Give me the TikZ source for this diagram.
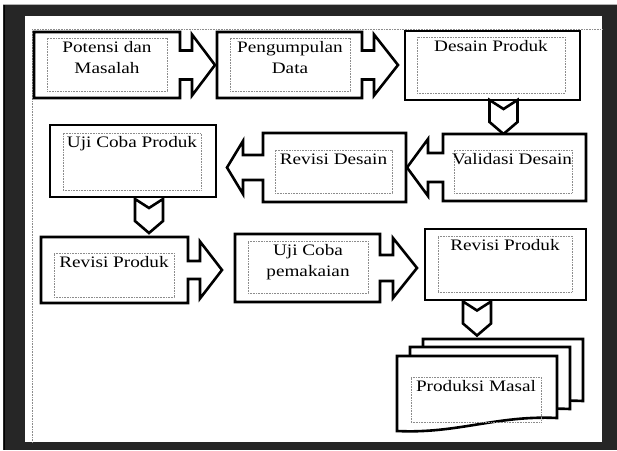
\documentclass[tikz,border=0pt]{standalone}
\usepackage{fontspec}
\setmainfont{Liberation Serif}[FakeStretch=1.2]
\usetikzlibrary{calc}
\definecolor{framegray}{RGB}{38,38,38}
\definecolor{guidegray}{RGB}{140,140,140}

\tikzset{
  outline/.style={draw=black, line width=2.6pt, fill=white, line join=miter},
  body/.style={inner sep=0pt, outer sep=0pt},
  intext/.style={draw=guidegray, line width=0.6pt, dash pattern=on 0.8pt off 0.8pt,
    inner sep=0pt, font=\fontsize{16}{21}\selectfont},
  guide/.style={guidegray, line width=0.8pt, dash pattern=on 0.8pt off 0.8pt},
  chevron/.pic={\draw[outline] (-14,-17) -- (0,-8) -- (14,-17) -- (14,5) -- (0,17) -- (-14,5) -- cycle;}
}

% text at the top of a dotted frame
\newcommand{\tbox}[3]{\parbox[t][#2][t]{#1}{\vspace*{3.5pt}\centering #3}}

% right arrow callout: node, shaft half, head half, shaft length, head length
\newcommand{\rcall}[5]{%
  \draw[outline] (#1.north west) -- (#1.north east)
    -- ($(#1.east)+(0,-#2)$) -- ($(#1.east)+(#4,-#2)$) -- ($(#1.east)+(#4,-#3)$)
    -- ($(#1.east)+(#4+#5,0)$)
    -- ($(#1.east)+(#4,#3)$) -- ($(#1.east)+(#4,#2)$) -- ($(#1.east)+(0,#2)$)
    -- (#1.south east) -- (#1.south west) -- cycle;}

% left arrow callout
\newcommand{\lcall}[5]{%
  \draw[outline] (#1.north east) -- (#1.north west)
    -- ($(#1.west)+(0,-#2)$) -- ($(#1.west)+(-#4,-#2)$) -- ($(#1.west)+(-#4,-#3)$)
    -- ($(#1.west)+(-#4-#5,0)$)
    -- ($(#1.west)+(-#4,#3)$) -- ($(#1.west)+(-#4,#2)$) -- ($(#1.west)+(0,#2)$)
    -- (#1.south west) -- (#1.south east) -- cycle;}

% one sheet of the stacked documents
\newcommand{\docpage}[2]{%
  \draw[outline] (#1,#2) -- ({#1+160},#2) -- ({#1+160},{#2+62})
    .. controls ({#1+100},{#2+59}) and ({#1+60},{#2+78}) .. (#1,{#2+75}) -- cycle;}

\begin{document}
\begin{tikzpicture}[x=1pt, y=-1pt]
  \useasboundingbox (0,0) rectangle (617,450);

  % window frame
  \fill[framegray] (3,4) rectangle (617,450);
  \draw[black, line width=1.2pt] (4.2,4) -- (4.2,450);
  \draw[gray!60, line width=0.8pt] (3,4.4) -- (617,4.4);
  \fill[white] (25,16) rectangle (602,442);
  \draw[guide] (32,29) -- (32,442);
  \draw[guide] (32,29) -- (602,29);

  % bodies
  \node[body, minimum width=146pt, minimum height=66pt] (pot) at (107,65) {};
  \node[body, minimum width=145pt, minimum height=66pt] (peng) at (289.5,65) {};
  \node[body, minimum width=175pt, minimum height=69pt] (desain) at (492.5,65.5) {};
  \node[body, minimum width=166pt, minimum height=72pt] (ujiproduk) at (133,161) {};
  \node[body, minimum width=143pt, minimum height=69pt] (revdesain) at (334.5,167.5) {};
  \node[body, minimum width=143pt, minimum height=67pt] (validasi) at (514.5,167.5) {};
  \node[body, minimum width=147pt, minimum height=66pt] (revproduk) at (114.5,270) {};
  \node[body, minimum width=145pt, minimum height=68pt] (ujipakai) at (307.5,268) {};
  \node[body, minimum width=161pt, minimum height=71pt] (revproduk2) at (505.5,264.5) {};
  \node[body, minimum width=160pt, minimum height=75pt] (masal) at (477,393.5) {};

  % row 1
  \rcall{pot}{14.5}{30.5}{12}{23}
  \rcall{peng}{14.5}{30.5}{12}{24}
  \draw[outline] (desain.north west) rectangle (desain.south east);
  \pic at ($(desain.south)!0.5!(validasi.north)$) {chevron};

  % row 2
  \draw[outline] (ujiproduk.north west) rectangle (ujiproduk.south east);
  \lcall{revdesain}{12.5}{26.5}{20}{16}
  \lcall{validasi}{14.5}{28.5}{15}{21}
  \pic at ($(ujiproduk.south)+(16,19)$) {chevron};

  % row 3
  \rcall{revproduk}{9}{28.5}{12}{22}
  \rcall{ujipakai}{13}{30}{13}{24}
  \draw[outline] (revproduk2.north west) rectangle (revproduk2.south east);
  \pic at ($(revproduk2.south)+(-28.5,18.5)$) {chevron};

  % stacked documents
  \docpage{423}{339}
  \docpage{410}{347}
  \docpage{397}{356}

  % texts
  \node[intext] (pot-t) at (107,64.5) {\tbox{120pt}{53pt}{Potensi dan\\Masalah}};
  \node[intext] (peng-t) at (290,64.5) {\tbox{120pt}{53pt}{Pengumpulan\\Data}};
  \node[intext] (desain-t) at (491,65) {\tbox{148pt}{56pt}{Desain Produk}};
  \node[intext] (ujiproduk-t) at (132,161.5) {\tbox{138pt}{57pt}{Uji Coba Produk}};
  \node[intext] (revdesain-t) at (333.5,171.5) {\tbox{117pt}{43pt}{Revisi Desain}};
  \node[intext] (validasi-t) at (513,171.5) {\tbox{118pt}{43pt}{\hspace*{-2pt}\mbox{Validasi Desain}}};
  \node[intext] (revproduk-t) at (114,275) {\tbox{120pt}{44pt}{Revisi Produk}};
  \node[intext] (ujipakai-t) at (308,267) {\tbox{120pt}{52pt}{Uji Coba\\pemakaian}};
  \node[intext] (revproduk2-t) at (505,264) {\tbox{134pt}{56pt}{Revisi Produk}};
  \node[intext] (masal-t) at (476,399.5) {\tbox{130pt}{45pt}{Produksi Masal}};
\end{tikzpicture}
\end{document}
